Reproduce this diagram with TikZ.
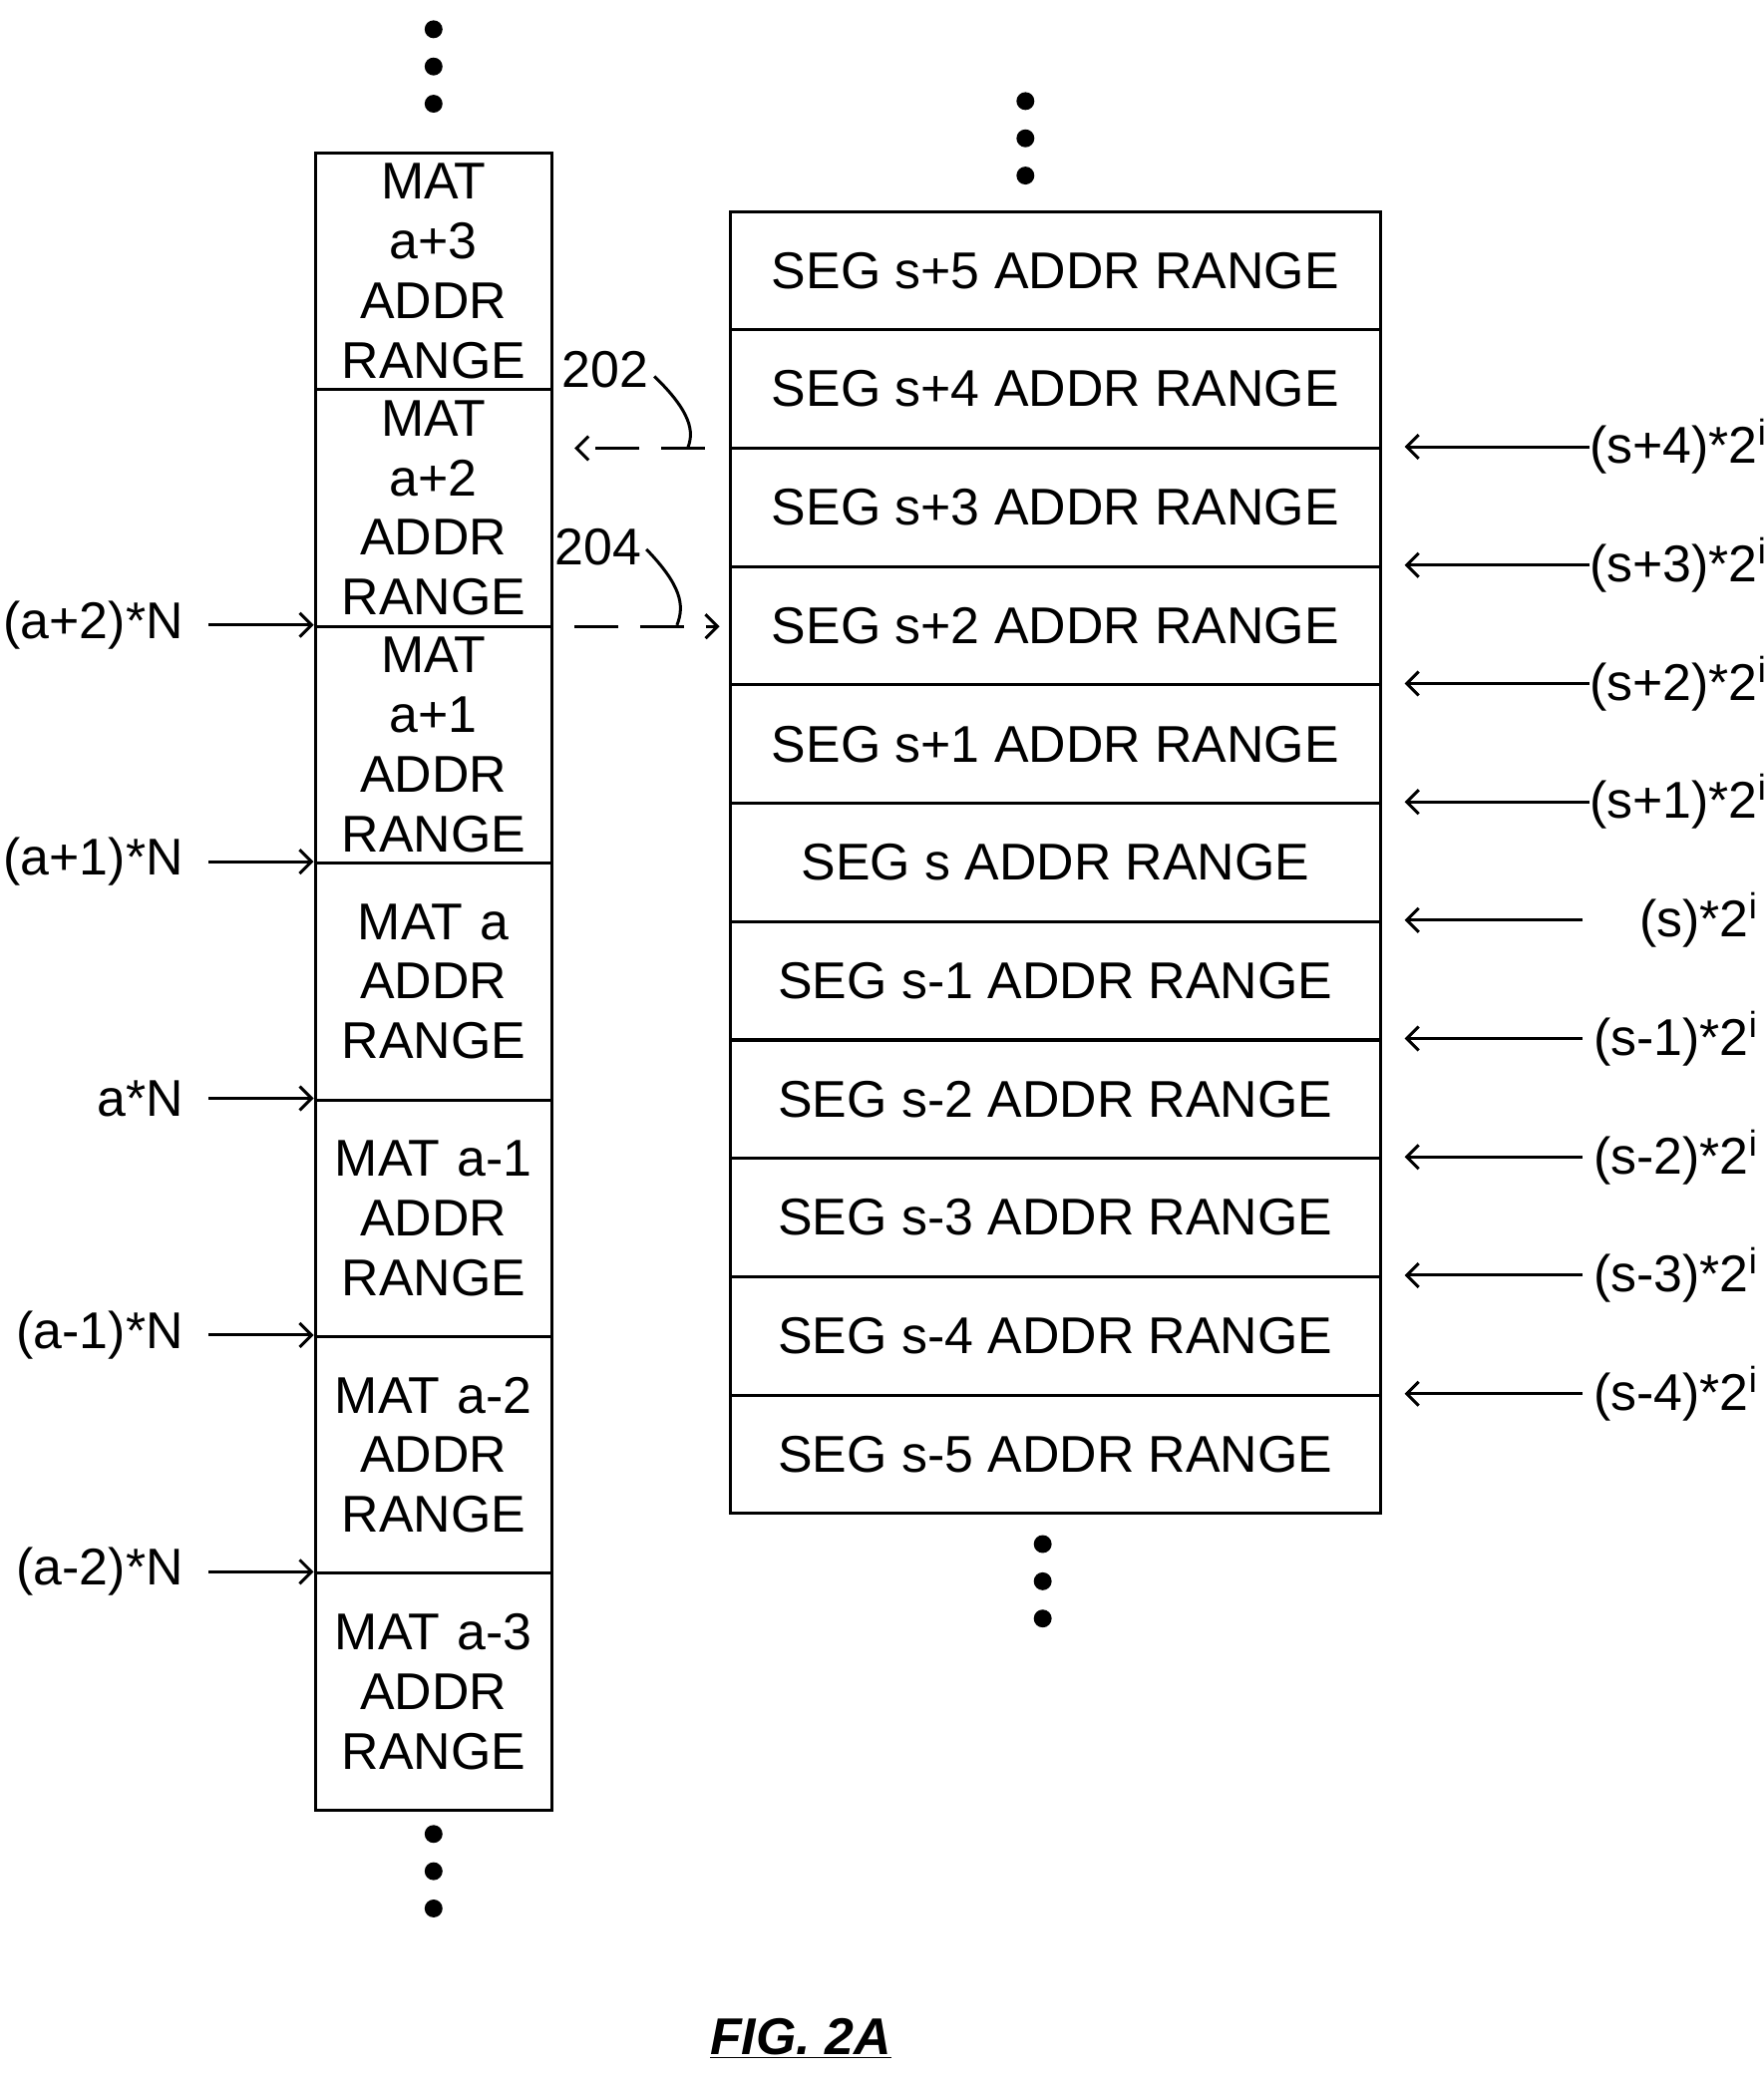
\documentclass[tikz,border=0pt]{standalone}
\usepackage{fontspec}
\setmainfont{Liberation Sans}
\usetikzlibrary{positioning}

\begin{document}
\begin{tikzpicture}[
    x=0.669pt,y=-0.669pt,
    every node/.style={font={\fontsize{26}{30}\selectfont}},
    mat/.style={draw,line width=1.5pt,minimum width=119.1pt,minimum height=119.1pt,
        inner sep=0pt,align=center,text width=110pt},
    seg/.style={draw,line width=1.5pt,minimum width=327.1pt,minimum height=59.5pt,inner sep=0pt},
    ptr/.style={->,line width=1.5pt,>={Straight Barb[length=6pt,width=12pt]}},
    dot/.style={fill,circle,inner sep=0pt,minimum size=9pt},
    ]
    \useasboundingbox (0,0) rectangle (1326,1561);
    \usetikzlibrary{arrows.meta}

    % mat address ranges
    \foreach \i/\txt [count=\k from 0] in {m3/{MAT\\a+3\\ADDR\\RANGE},
        m2/{MAT\\a+2\\ADDR\\RANGE}, m1/{MAT\\a+1\\ADDR\\RANGE},
        m0/{MAT a\\ADDR\\RANGE}, mm1/{MAT a-1\\ADDR\\RANGE},
        mm2/{MAT a-2\\ADDR\\RANGE}, mm3/{MAT a-3\\ADDR\\RANGE}}
        \node[mat] (\i) at (326,{204+178*\k}) {\txt};

    % seg address ranges
    \foreach \i/\txt [count=\k from 0] in {s5/s+5,s4/s+4,s3/s+3,s2/s+2,s1/s+1,s0/s,
        sm1/s-1,sm2/s-2,sm3/s-3,sm4/s-4,sm5/s-5}
        \node[seg] (\i) at (793.5,{203.5+89*\k}) {SEG \txt\ ADDR RANGE};

    % dots
    \foreach \y in {22,50,78,1379,1407,1435} \node[dot] at (326,\y) {};
    \foreach \y in {76,104,132} \node[dot] at (771,\y) {};
    \foreach \y in {1161,1189,1217} \node[dot] at (784,\y) {};

    % mat pointers
    \foreach \b/\txt in {m1/(a+2)*N,m0/(a+1)*N,mm1/a*N,mm2/(a-1)*N,mm3/(a-2)*N}{
        \node[anchor=east] (l\b) at (143,0 |- \b.north) {\txt};
        \coordinate (c\b) at (157,0 |- \b.north);
        \draw[ptr] (c\b) -- (\b.north west);
    }

    % seg pointers
    \foreach \b/\txt in {s3/(s+4),s2/(s+3),s1/(s+2),s0/(s+1)}{
        \node[anchor=west,inner sep=0pt] (r\b) at (1195,0 |- \b.north) {\txt*2\textsuperscript{i}};
        \draw[ptr] (r\b.west) -- ([xshift=11.4pt]\b.north east);
    }
    \foreach \b/\txt in {sm1/(s),sm2/(s-1),sm3/(s-2),sm4/(s-3),sm5/(s-4)}{
        \node[anchor=east,inner sep=0pt] (r\b) at (1322,0 |- \b.north) {\txt*2\textsuperscript{i}};
        \coordinate (c\b) at (1190,0 |- \b.north);
        \draw[ptr] (c\b) -- ([xshift=11.4pt]\b.north east);
    }

    % 202 / 204
    \coordinate (a1) at (530,337);
    \coordinate (a2) at (432,337);
    \coordinate (b1) at (432,471);
    \coordinate (b2) at (541,471);
    \draw[ptr,dashed,dash pattern=on 22pt off 11pt] (a1) -- (a2);
    \draw[ptr,dashed,dash pattern=on 22pt off 11pt] (b1) -- (b2);
    \node (n202) at (455,278) {202};
    \node (n204) at (450,411) {204};
    \draw[line width=1.5pt] (492,283) .. controls (520,310) and (522,325) .. (517,337);
    \draw[line width=1.5pt] (486,413) .. controls (512,440) and (515,455) .. (509,470);

    % caption
    \node[font={\fontsize{26}{30}\selectfont\bfseries\itshape}] (fig) at (602,1533) {\underline{FIG. 2A}};
\end{tikzpicture}
\end{document}
